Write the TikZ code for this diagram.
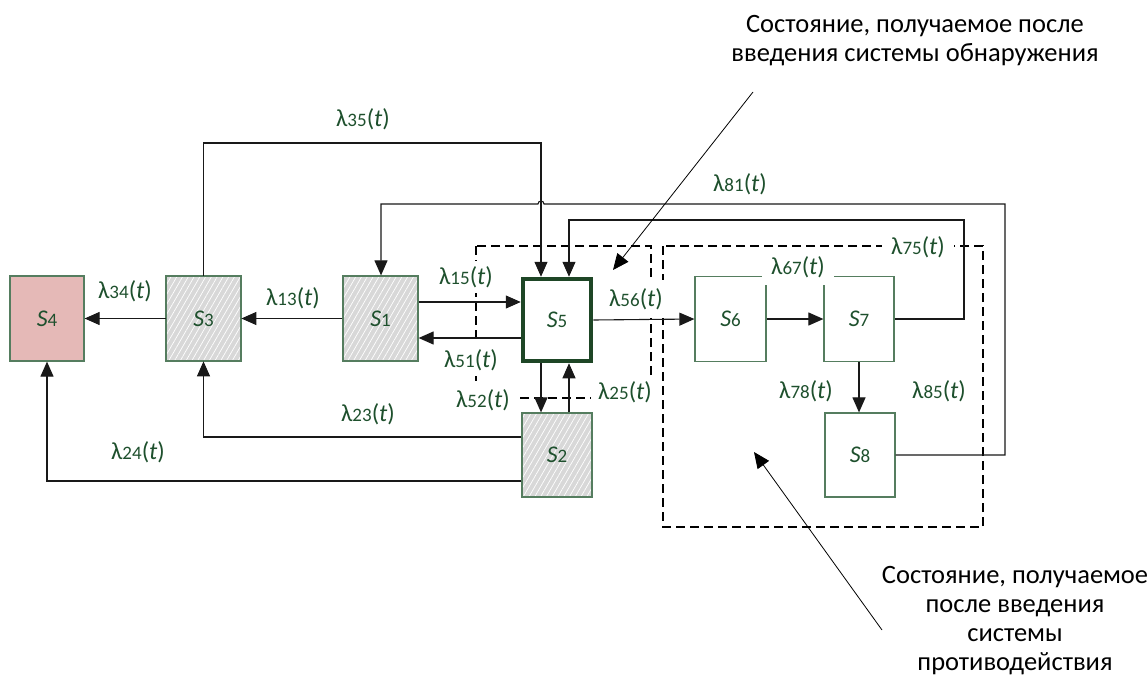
\documentclass[tikz,border=0pt]{standalone}
\usepackage{fontspec}
\setmainfont{Carlito}
\usetikzlibrary{arrows.meta,patterns.meta}

\definecolor{labgreen}{RGB}{30,80,45}
\definecolor{edgegreen}{RGB}{85,125,95}
\definecolor{darkgreen}{RGB}{30,70,38}
\definecolor{hatchgray}{RGB}{216,216,216}
\definecolor{rosefill}{RGB}{229,185,183}

% rate label: lambda with index and (t)
\newcommand\lamlab[1]{λ{\fontsize{19}{19}\selectfont #1}(\textit{t})}
% state name: S with index
\newcommand\stname[1]{\textit{S}{\fontsize{19}{19}\selectfont #1}}

\tikzset{
  state/.style={draw=edgegreen, line width=1.2pt, minimum width=72, minimum height=85,
    inner sep=0pt, text=labgreen, font=\fontsize{24}{24}\selectfont},
  hatched/.style={preaction={fill=hatchgray},
    pattern={Lines[angle=60,distance=5pt,line width=0.7pt]}, pattern color=white},
  ratelab/.style={fill=white, text=labgreen, inner xsep=9pt, inner ysep=5pt,
    font=\fontsize{24.5}{24.5}\selectfont},
  conn/.style={draw=black!90, line width=1.1pt, -{Triangle[length=15pt,width=13pt]}},
  pointer/.style={draw=black, line width=0.8pt, -{Triangle[length=16pt,width=14pt]}},
  sysbox/.style={draw=black, line width=2.8pt, dash pattern=on 9pt off 5pt},
  note/.style={align=center, font=\fontsize{26.5}{29}\selectfont, inner sep=0pt}
}

\begin{document}
\begin{tikzpicture}[x=1pt, y=-1pt]
\useasboundingbox (0,0) rectangle (1148,693);

% subsystem outlines
\draw[sysbox] (476,246) rectangle (651,398);
\draw[sysbox] (663,246) rectangle (983,527);

% states
\node[state, fill=rosefill, minimum width=74] (S4) at (47,318.5) {\stname{4}};
\node[state, hatched, minimum width=75] (S3) at (203.5,318.5) {\stname{3}};
\node[state, hatched, minimum width=75] (S1) at (380.5,318.5) {\stname{1}};
\node[state, draw=darkgreen, line width=4.5pt, minimum width=68, minimum height=82] (S5) at (557,320) {\stname{5}};
\node[state, hatched, minimum width=70, minimum height=84] (S2) at (557,455) {\stname{2}};
\node[state, minimum width=71] (S6) at (730.5,319) {\stname{6}};
\node[state, minimum width=70] (S7) at (859,319) {\stname{7}};
\node[state, minimum width=70, minimum height=84] (S8) at (860,455) {\stname{8}};

% rate labels
\node[ratelab] (L35) at (363,119) {\lamlab{35}};
\node[ratelab] (L81) at (740,184) {\lamlab{81}};
\node[ratelab] (L75) at (918,247) {\lamlab{75}};
\node[ratelab, inner ysep=7pt] (L67) at (798,267) {\lamlab{67}};
\node[ratelab] (L34) at (125,291) {\lamlab{34}};
\node[ratelab] (L13) at (293,298) {\lamlab{13}};
\node[ratelab] (L15) at (466,277) {\lamlab{15}};
\node[ratelab, inner ysep=8pt] (L56) at (636,299) {\lamlab{56}};
\node[ratelab] (L51) at (471,360) {\lamlab{51}};
\node[ratelab] (L52) at (483,400) {\lamlab{52}};
\node[ratelab, inner xsep=7pt] (L25) at (625,392) {\lamlab{25}};
\node[ratelab] (L23) at (368,414) {\lamlab{23}};
\node[ratelab] (L24) at (138,452) {\lamlab{24}};
\node[ratelab] (L78) at (806,391) {\lamlab{78}};
\node[ratelab] (L85) at (939,391) {\lamlab{85}};

% transitions
\draw[conn] (S3.west) -- (S4.east);
\draw[conn] (S1.west) -- (S3.east);
\draw[conn] (S1.east |- 0,302) -- (S5.west |- 0,302);
\draw[conn] (S5.west |- 0,338) -- (S1.east |- 0,338);
\draw[conn] (S5.south -| 541,0) -- (S2.north -| 541,0);
\draw[conn] (S2.north -| 569,0) -- (S5.south -| 569,0);
\draw[conn] (S5.east) -- (S6.west);
\draw[conn] (S6.east) -- (S7.west);
\draw[conn] (S7.south) -- (S8.north -| S7.south);
\draw[conn] (S2.west |- 0,437) -| (S3.south);
\draw[conn] (S2.west |- 0,481) -| (S4.south);
\draw[conn] (S3.north) |- (541,143) -- (S5.north -| 541,0);
\draw[conn] (S7.east) -- (964,319) -- (964,220) -- (569,220) -- (S5.north -| 569,0);
\draw[conn] (S8.east) -- (1005,455) -- (1005,204) -- (544,204)
  arc[start angle=0, end angle=-180, radius=3] -- (381,204) -- (S1.north -| 381,0);

% annotations
\node[note, anchor=base] (N1) at (915,62) {Состояние, получаемое после\\введения системы обнаружения};
\node[note, anchor=base] (N2) at (1015,670) {Состояние, получаемое\\после введения\\системы\\противодействия};
\coordinate (P1s) at (753,92);
\coordinate (P1e) at (613,270);
\coordinate (P2s) at (882,630);
\coordinate (P2e) at (754,452);
\draw[pointer] (P1s) -- (P1e);
\draw[pointer] (P2s) -- (P2e);
\end{tikzpicture}
\end{document}
